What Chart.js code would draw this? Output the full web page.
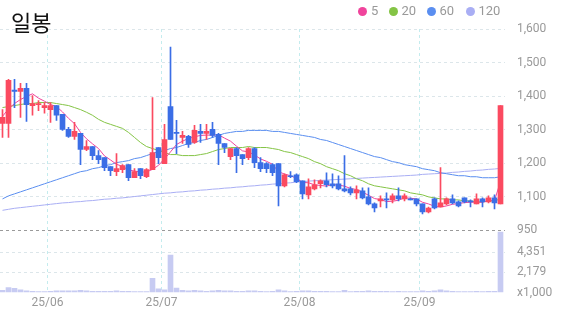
<!DOCTYPE html>
<html>
<head>
<meta charset="utf-8">
<script src="https://cdn.jsdelivr.net/npm/chart.js@4.4.1/dist/chart.umd.min.js"></script>
<style>
  html, body { margin: 0; padding: 0; background: #fff; }
  #wrap { position: relative; width: 573px; height: 315px; overflow: hidden; }
  #title {
    position: absolute; left: 0; top: 0; width: 83px; height: 27px; background: #fff;
    font-family: "Noto Sans CJK KR", sans-serif; font-size: 22px; line-height: 22px; color: #111;
  }
  #title span { position: absolute; left: 11px; top: 10px; }
  .dot { position: absolute; top: 7px; width: 9px; height: 9px; border-radius: 50%; }
  .lg { position: absolute; top: 3px; font-family: Roboto, sans-serif; font-size: 13px; line-height: 16px; color: #999; }
</style>
</head>
<body>
<div id="wrap">
  <canvas id="chart" width="573" height="315"></canvas>
  <div id="title"><span>일봉</span></div>
  <div id="legend"></div>
</div>
<script>
// trading days, 25/05/21 .. 25/09/18
const dates = [
  "25/05/21", "25/05/22", "25/05/23", "25/05/26", "25/05/27", "25/05/28", "25/05/29", "25/05/30",
  "25/06/02", "25/06/04", "25/06/05", "25/06/09", "25/06/10", "25/06/11", "25/06/12", "25/06/13",
  "25/06/16", "25/06/17", "25/06/18", "25/06/19", "25/06/20", "25/06/23", "25/06/24", "25/06/25",
  "25/06/26", "25/06/27", "25/06/30",
  "25/07/01", "25/07/02", "25/07/03", "25/07/04", "25/07/07", "25/07/08", "25/07/09", "25/07/10",
  "25/07/11", "25/07/14", "25/07/15", "25/07/16", "25/07/17", "25/07/18", "25/07/21", "25/07/22",
  "25/07/23", "25/07/24", "25/07/25", "25/07/28", "25/07/29", "25/07/30", "25/07/31",
  "25/08/01", "25/08/04", "25/08/05", "25/08/06", "25/08/07", "25/08/08", "25/08/11", "25/08/12",
  "25/08/13", "25/08/14", "25/08/18", "25/08/19", "25/08/20", "25/08/21", "25/08/22", "25/08/25",
  "25/08/26", "25/08/27", "25/08/28", "25/08/29",
  "25/09/01", "25/09/02", "25/09/03", "25/09/04", "25/09/05", "25/09/08", "25/09/09", "25/09/10",
  "25/09/11", "25/09/12", "25/09/15", "25/09/16", "25/09/17", "25/09/18"
];

const openP = [
  1319, 1319, 1418, 1414, 1423, 1372, 1375, 1366, 1360, 1372,
  1346, 1301, 1280, 1289, 1241, 1250, 1223, 1217, 1190, 1175,
  1181, 1196, 1157, 1184, 1160, 1181, 1247, 1199, 1369, 1292,
  1277, 1280, 1262, 1295, 1289, 1301, 1286, 1259, 1220, 1244,
  1226, 1217, 1244, 1202, 1199, 1196, 1199, 1133, 1163, 1166,
  1148, 1106, 1124, 1139, 1148, 1139, 1139, 1124, 1124, 1112,
  1118, 1100, 1079, 1088, 1094, 1091, 1103, 1094, 1094, 1094,
  1079, 1055, 1094, 1070, 1079, 1094, 1085, 1097, 1088, 1079,
  1094, 1085, 1097, 1079
];
const highP = [
  1360, 1450, 1450, 1438, 1438, 1402, 1387, 1381, 1381, 1372,
  1346, 1307, 1322, 1289, 1268, 1250, 1238, 1217, 1190, 1229,
  1196, 1196, 1184, 1184, 1184, 1396, 1247, 1316, 1546, 1328,
  1295, 1283, 1313, 1316, 1316, 1322, 1289, 1259, 1244, 1247,
  1226, 1247, 1247, 1217, 1202, 1199, 1199, 1169, 1175, 1169,
  1148, 1154, 1151, 1151, 1172, 1169, 1163, 1223, 1130, 1133,
  1127, 1127, 1082, 1103, 1112, 1109, 1127, 1109, 1097, 1094,
  1079, 1070, 1097, 1187, 1097, 1106, 1088, 1097, 1091, 1109,
  1097, 1103, 1106, 1372
];
const lowP = [
  1277, 1277, 1366, 1337, 1325, 1343, 1357, 1349, 1322, 1328,
  1298, 1277, 1271, 1196, 1238, 1211, 1199, 1178, 1163, 1163,
  1172, 1148, 1157, 1154, 1157, 1181, 1199, 1199, 1271, 1229,
  1259, 1247, 1259, 1262, 1271, 1277, 1196, 1232, 1211, 1172,
  1196, 1211, 1187, 1175, 1172, 1163, 1073, 1130, 1157, 1142,
  1094, 1094, 1121, 1127, 1130, 1127, 1121, 1115, 1106, 1094,
  1094, 1076, 1055, 1070, 1067, 1082, 1088, 1088, 1091, 1073,
  1049, 1052, 1064, 1070, 1076, 1079, 1070, 1082, 1070, 1079,
  1070, 1082, 1064, 1079
];
const closeP = [
  1337, 1447, 1414, 1423, 1375, 1378, 1378, 1372, 1372, 1343,
  1301, 1280, 1295, 1241, 1250, 1223, 1211, 1187, 1178, 1184,
  1193, 1157, 1175, 1163, 1181, 1232, 1217, 1271, 1271, 1289,
  1283, 1256, 1298, 1289, 1295, 1283, 1259, 1247, 1244, 1223,
  1214, 1244, 1202, 1184, 1184, 1172, 1133, 1166, 1160, 1145,
  1109, 1130, 1136, 1148, 1136, 1133, 1124, 1118, 1112, 1121,
  1097, 1079, 1067, 1094, 1091, 1103, 1094, 1103, 1091, 1079,
  1055, 1067, 1067, 1082, 1094, 1082, 1073, 1085, 1085, 1094,
  1085, 1097, 1082, 1372
];

// volume, x1,000 shares
const volume = [
  250, 550, 450, 300, 200, 150, 120, 120, 150, 180,
  200, 180, 200, 250, 180, 150, 150, 150, 150, 180,
  130, 150, 100, 100, 100, 1550, 400, 300, 4050, 500,
  250, 200, 250, 200, 150, 200, 250, 180, 200, 150,
  130, 200, 200, 150, 120, 150, 300, 200, 120, 150,
  200, 180, 150, 150, 150, 120, 120, 250, 120, 150,
  150, 180, 150, 150, 150, 120, 150, 120, 100, 120,
  200, 150, 200, 300, 180, 150, 120, 120, 120, 150,
  120, 150, 150, 6527
];

const ma5 = [
  1340, 1362, 1378, 1390, 1399, 1407, 1394, 1385, 1375, 1369,
  1353, 1334, 1318, 1292, 1273, 1258, 1244, 1222, 1210, 1197,
  1191, 1180, 1177, 1174, 1174, 1182, 1194, 1213, 1234, 1256,
  1266, 1274, 1279, 1283, 1284, 1284, 1285, 1275, 1266, 1251,
  1237, 1234, 1225, 1213, 1206, 1197, 1175, 1168, 1163, 1155,
  1143, 1142, 1136, 1134, 1132, 1137, 1135, 1132, 1125, 1122,
  1114, 1105, 1095, 1092, 1086, 1087, 1090, 1097, 1096, 1094,
  1084, 1079, 1072, 1070, 1073, 1078, 1080, 1083, 1084, 1084,
  1084, 1089, 1089, 1146
];
const ma20 = [
  1366, 1369, 1372, 1375, 1378, 1378, 1381, 1381, 1381, 1378,
  1375, 1372, 1366, 1360, 1352, 1343, 1331, 1322, 1316, 1310,
  1304, 1292, 1277, 1262, 1250, 1244, 1238, 1232, 1226, 1226,
  1223, 1223, 1223, 1226, 1229, 1235, 1241, 1244, 1247, 1247,
  1247, 1250, 1247, 1247, 1247, 1244, 1241, 1235, 1232, 1226,
  1220, 1214, 1205, 1199, 1190, 1184, 1178, 1169, 1163, 1154,
  1148, 1139, 1133, 1130, 1127, 1124, 1121, 1118, 1112, 1109,
  1106, 1100, 1097, 1094, 1094, 1091, 1091, 1088, 1088, 1085,
  1085, 1088, 1088, 1094
];
const ma60 = [
  1094, 1103, 1109, 1115, 1121, 1127, 1133, 1139, 1145, 1151,
  1157, 1163, 1169, 1175, 1178, 1184, 1187, 1193, 1196, 1202,
  1205, 1208, 1214, 1217, 1223, 1229, 1235, 1238, 1244, 1247,
  1253, 1259, 1262, 1268, 1271, 1277, 1283, 1289, 1292, 1295,
  1295, 1298, 1298, 1298, 1298, 1295, 1295, 1292, 1289, 1286,
  1283, 1280, 1277, 1271, 1268, 1262, 1256, 1250, 1244, 1238,
  1232, 1226, 1220, 1217, 1211, 1205, 1202, 1196, 1193, 1190,
  1184, 1181, 1178, 1172, 1169, 1166, 1163, 1163, 1160, 1160,
  1157, 1157, 1157, 1160
];
const ma120 = [
  1060, 1063, 1066, 1068, 1070, 1072, 1074, 1076, 1078, 1080,
  1082, 1083, 1085, 1086, 1088, 1089, 1091, 1093, 1094, 1096,
  1097, 1099, 1101, 1103, 1105, 1107, 1109, 1111, 1112, 1114,
  1115, 1117, 1118, 1120, 1121, 1123, 1124, 1126, 1127, 1129,
  1130, 1132, 1133, 1135, 1136, 1138, 1139, 1141, 1142, 1144,
  1145, 1147, 1148, 1149, 1150, 1151, 1152, 1153, 1154, 1155,
  1156, 1157, 1158, 1159, 1160, 1161, 1162, 1163, 1164, 1165,
  1167, 1168, 1169, 1170, 1171, 1173, 1174, 1176, 1177, 1179,
  1180, 1182, 1183, 1185
];

const maPeriods = ["5", "20", "60", "120"];
const maColors = ["#f0449c", "#84c445", "#5a8ef0", "#a9aef4"];

const priceTicks = [1000, 1100, 1200, 1300, 1400, 1500, 1600];
const priceTickLabels = ["950", "1,100", "1,200", "1,300", "1,400", "1,500", "1,600"];
const volTicks = [0, 2179, 4351];
const volTickLabels = ["x1,000", "2,179", "4,351"];
const volAxisMax = 6700;

const upColor = "#fb4a60";
const downColor = "#3b6ee6";
const volColor = "#c7cbf2";
const tickFont = { family: "Roboto", size: 12 };

// month boundaries, tick sits between last day of a month and the first of the next
var monthTicks = [];
for (var i = 1; i < dates.length; i++) {
  if (dates[i].slice(3, 5) !== dates[i - 1].slice(3, 5)) {
    monthTicks.push({ pos: i - 0.5, label: dates[i].slice(0, 5) });
  }
}

function pts(arr) {
  return arr.map((v, i) => ({ x: i, y: v }));
}

function candleColor(i) {
  return closeP[i] >= openP[i] ? upColor : downColor;
}

const bodies = openP.map((o, i) => ({ x: i, y: [o, closeP[i]] }));
const wicks = lowP.map((l, i) => ({ x: i, y: [l, highP[i]] }));
const colorsAll = openP.map((o, i) => candleColor(i));

const maData = [ma5, ma20, ma60, ma120];
const lineSets = maData.map((arr, k) => ({
  type: "line",
  label: "MA" + maPeriods[k],
  data: pts(arr),
  yAxisID: "y",
  borderColor: maColors[k],
  borderWidth: 1,
  pointRadius: 0,
  tension: 0,
  order: 2,
}));

new Chart(document.getElementById("chart"), {
  type: "bar",
  data: {
    datasets: [
      {
        label: "wick",
        data: wicks,
        yAxisID: "y",
        backgroundColor: colorsAll,
        barThickness: 1,
        grouped: false,
        minBarLength: 1,
        order: 1,
      },
      {
        label: "body",
        data: bodies,
        yAxisID: "y",
        backgroundColor: colorsAll,
        barThickness: 5,
        grouped: false,
        minBarLength: 1,
        order: 0,
      },
      {
        label: "volume",
        data: pts(volume),
        yAxisID: "yv",
        backgroundColor: volColor,
        barThickness: 5,
        grouped: false,
        order: 3,
      },
    ].concat(lineSets),
  },
  options: {
    responsive: false,
    animation: false,
    events: [],
    layout: { padding: { top: 29, left: 0, right: 0, bottom: 2 } },
    plugins: { legend: { display: false }, tooltip: { enabled: false } },
    scales: {
      x: {
        type: "linear",
        offset: false,
        min: -2.5 / 6,
        max: -2.5 / 6 + 505 / 6,
        afterBuildTicks: (scale) => {
          scale.ticks = monthTicks.map((t) => ({ value: t.pos }));
        },
        ticks: {
          callback: (v, idx) => monthTicks[idx].label,
          color: "#999",
          font: tickFont,
          padding: 3,
          maxRotation: 0,
          autoSkip: false,
        },
        grid: { color: "#c4ecee", drawTicks: false, offset: false },
        border: { display: false, dash: [3, 3] },
      },
      y: {
        position: "right",
        stack: "panes",
        stackWeight: 201,
        min: 1000,
        max: 1600,
        afterBuildTicks: (scale) => {
          scale.ticks = priceTicks.map((v) => ({ value: v }));
        },
        afterFit: (scale) => {
          scale.width = 68;
        },
        ticks: {
          callback: (v, idx) => priceTickLabels[idx],
          color: "#999",
          font: tickFont,
          padding: 12,
          autoSkip: false,
        },
        grid: {
          color: (ctx) => (ctx.tick && ctx.tick.value === 1000 ? "#9a9a9a" : "#dce6ea"),
          drawTicks: false,
        },
        border: { display: false, dash: [3, 3] },
      },
      yv: {
        position: "right",
        stack: "panes",
        stackWeight: 62,
        min: 0,
        max: volAxisMax,
        afterBuildTicks: (scale) => {
          scale.ticks = volTicks.map((v) => ({ value: v }));
        },
        afterFit: (scale) => {
          scale.width = 68;
        },
        ticks: {
          callback: (v, idx) => volTickLabels[idx],
          color: "#999",
          font: tickFont,
          padding: 12,
          autoSkip: false,
        },
        grid: {
          color: (ctx) => (ctx.tick && ctx.tick.value === 0 ? "rgba(0,0,0,0)" : "#dce6ea"),
          drawTicks: false,
        },
        border: { display: false, dash: [3, 3] },
      },
    },
  },
});

// legend dots on the top right
const legendLeft = [358, 388.5, 426.5, 465.5];
const legendBox = document.getElementById("legend");
for (var k = 0; k < maPeriods.length; k++) {
  const dot = document.createElement("div");
  dot.className = "dot";
  dot.style.left = legendLeft[k] + "px";
  dot.style.background = maColors[k];
  const txt = document.createElement("div");
  txt.className = "lg";
  txt.style.left = legendLeft[k] + 13 + "px";
  txt.textContent = maPeriods[k];
  legendBox.appendChild(dot);
  legendBox.appendChild(txt);
}
</script>
</body>
</html>
